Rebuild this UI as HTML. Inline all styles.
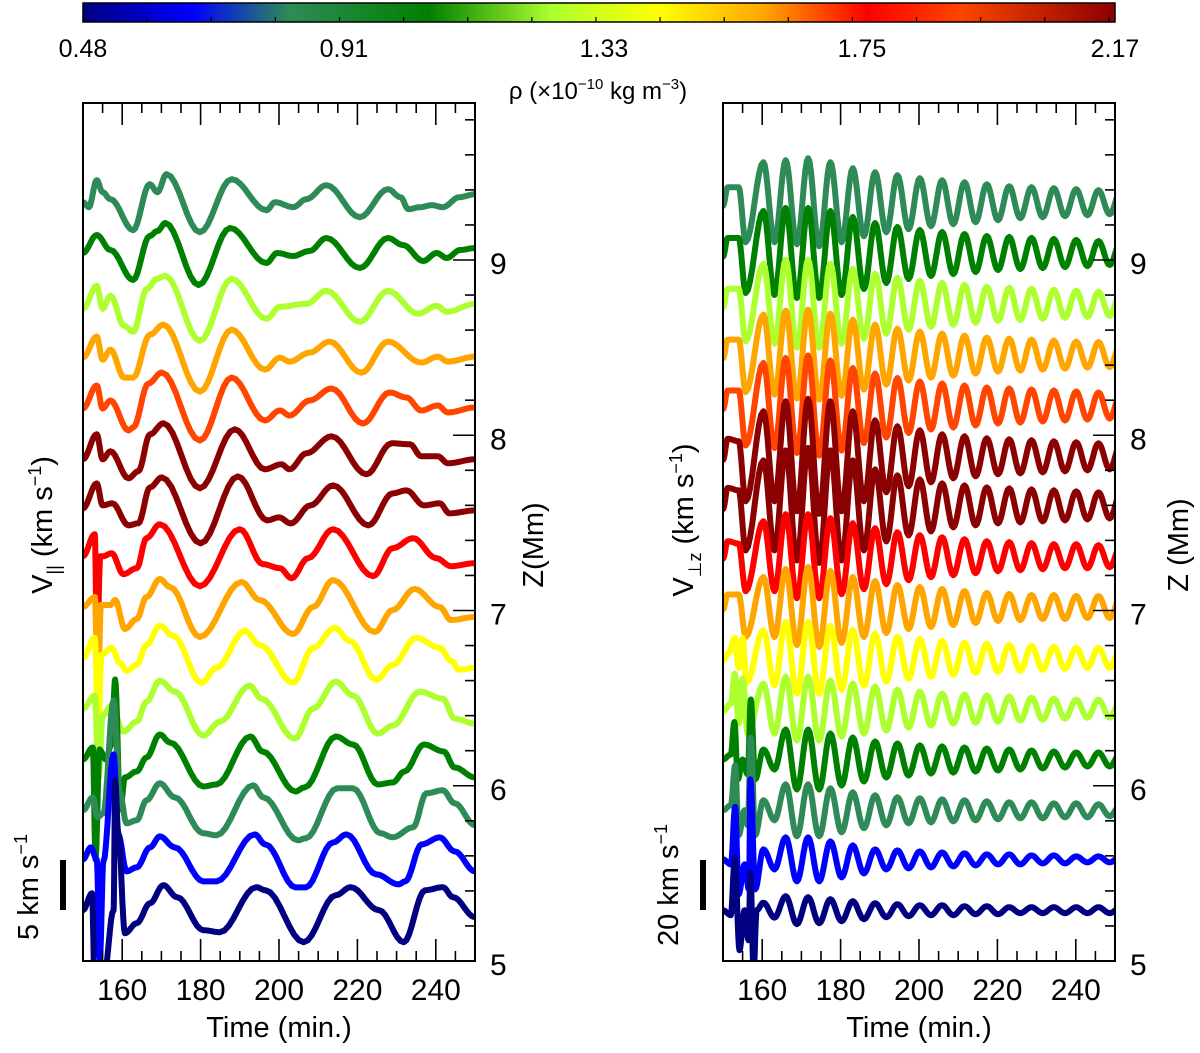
<!DOCTYPE html>
<html><head><meta charset="utf-8"><style>
html,body{margin:0;padding:0;background:#fff;}
svg{display:block;font-family:"Liberation Sans",Arial,sans-serif;}
</style></head><body>
<svg id="fig" width="1200" height="1053" viewBox="0 0 1200 1053" xmlns="http://www.w3.org/2000/svg">
<defs>
<linearGradient id="cbg" x1="0" x2="1" y1="0" y2="0">
<stop offset="0" stop-color="#000080"/><stop offset="0.106" stop-color="#0000ff"/><stop offset="0.2" stop-color="#2e8b57"/><stop offset="0.335" stop-color="#008000"/><stop offset="0.454" stop-color="#adff2f"/><stop offset="0.558" stop-color="#ffff00"/><stop offset="0.66" stop-color="#ffa500"/><stop offset="0.76" stop-color="#ff0000"/><stop offset="0.85" stop-color="#ff4500"/><stop offset="1" stop-color="#8b0000"/>
</linearGradient>
<clipPath id="clipL"><rect x="83" y="103" width="392" height="858"/></clipPath>
<clipPath id="clipR"><rect x="723" y="103" width="392" height="858"/></clipPath>
</defs>
<g>
<rect x="83" y="3" width="1032" height="19" fill="url(#cbg)" stroke="#000" stroke-width="1.5"/>
<g id="cbticks"></g>
<g font-size="25" text-anchor="middle">
<text x="83" y="57">0.48</text>
<text x="344" y="57">0.91</text>
<text x="604" y="57">1.33</text>
<text x="862" y="57">1.75</text>
<text x="1115" y="57">2.17</text>
</g>
<text x="598" y="99" font-size="24" text-anchor="middle">ρ (×10<tspan dy="-10" font-size="15">−10</tspan><tspan dy="10"> kg m</tspan><tspan dy="-10" font-size="15">−3</tspan><tspan dy="10">)</tspan></text>
</g>
<g id="panelL"></g>
<g id="panelR"></g>
<text transform="translate(52,525) rotate(-90)" font-size="29" text-anchor="middle">V<tspan dy="8" font-size="18">||</tspan><tspan dy="-8"> (km s</tspan><tspan dy="-11" font-size="18">−1</tspan><tspan dy="11">)</tspan></text>
<text transform="translate(38,887) rotate(-90)" font-size="29" text-anchor="middle">5 km s<tspan dy="-11" font-size="18">−1</tspan></text>
<rect x="60" y="860" width="6" height="50" fill="#000"/>
<text transform="translate(543,545) rotate(-90)" font-size="29" text-anchor="middle">Z(Mm)</text>
<text x="279" y="1037" font-size="29" text-anchor="middle">Time (min.)</text>
<text transform="translate(693,520) rotate(-90)" font-size="29" text-anchor="middle">V<tspan dy="8" font-size="18">⊥z</tspan><tspan dy="-8"> (km s</tspan><tspan dy="-11" font-size="18">−1</tspan><tspan dy="11">)</tspan></text>
<text transform="translate(678,885) rotate(-90)" font-size="29" text-anchor="middle">20 km s<tspan dy="-11" font-size="18">−1</tspan></text>
<rect x="700" y="860" width="6" height="50" fill="#000"/>
<text transform="translate(1188,545) rotate(-90)" font-size="29" text-anchor="middle">Z (Mm)</text>
<text x="919" y="1037" font-size="29" text-anchor="middle">Time (min.)</text>
</svg>
<script>
const NS="http://www.w3.org/2000/svg";
const curveColors=["#2e8b57","#008000","#adff2f","#ffa500","#ff4500","#8b0000","#8b0000","#ff0000","#ffa500","#ffff00","#adff2f","#008000","#2e8b57","#0000ff","#000080"];
const zLevels=[9.33,9.04,8.75,8.46,8.17,7.88,7.60,7.31,7.02,6.73,6.44,6.15,5.86,5.58,5.29];
const xTickLabels=[160,180,200,220,240];
const zTickLabels=[5,6,7,8,9];
const cbTicks=[0.48,0.91,1.33,1.75,2.17];

// Left panel: V_parallel knots [time(min), km/s]
const par0=[[150,0],[151.5,-0.5],[153.5,2.2],[155,1.0],[157,0.3],[162.8,-2.8],[167,1.8],[169,1.0],[171.3,2.8],[179.8,-3.0],[187.9,2.3],[196.8,-0.8],[199,0],[203.6,-0.5],[207,0.3],[212.1,1.7],[220.6,-1.5],[227.8,1.3],[231,0.5],[233,-0.7],[236,-0.5],[239,-0.3],[241.8,-0.5],[246,0.5],[250,0.8]];
const par1=[[150,0],[153.5,1.8],[157,0.3],[162.8,-2.7],[167,1.7],[169,2.2],[171,3.0],[179.5,-3.2],[187.5,2.5],[196.8,-1.0],[199.5,0],[203.6,-0.3],[207.8,0.2],[212.1,1.5],[220.6,-1.5],[227.8,1.5],[231.6,0.8],[236.8,-0.8],[240.2,0],[242.8,-0.5],[246.2,0.3],[250,0.5]];
const par2=[[150,-0.5],[153.5,1.8],[155,-0.5],[157,0.8],[160.5,-2.2],[162.8,-2.8],[166.3,1.5],[168.8,2.5],[171,2.8],[179.8,-3.7],[187.9,2.5],[196.8,-1.5],[200.2,-0.3],[207,0],[212.1,1.3],[220.6,-1.8],[227.8,1.3],[235.5,-1.0],[240.2,-0.2],[242.8,-0.8],[250,0]];
const par3=[[150,-0.3],[153.5,1.8],[155,-0.5],[157,0.5],[160.5,-2.3],[162.8,-2.3],[167.1,2.0],[170.5,3.0],[179.8,-3.7],[187.9,2.5],[196.4,-1.5],[200.2,-0.3],[202.7,-0.7],[207.8,0.2],[212.9,1.3],[221,-1.8],[227.8,1.3],[236.3,-0.8],[240.5,-0.2],[243.1,-0.7],[250,-0.2]];
const par4=[[150,-0.3],[153.5,2.0],[155,-0.3],[157,0.5],[161.6,-2.5],[162.8,-2.2],[166.7,2.2],[170.1,3.3],[179.8,-3.5],[187.9,2.8],[196.4,-1.5],[200.2,-0.5],[202.7,-1.0],[207.8,0.5],[213.4,1.7],[221.4,-1.8],[228.2,1.3],[232.5,0.8],[236.3,-0.5],[240.5,0],[243.1,-0.7],[250,-0.2]];
const par5=[[150,-0.3],[153.5,2.2],[155,-0.3],[157,0.5],[161.6,-2.2],[164.1,-1.5],[167.1,2.2],[170.5,3.3],[179.8,-3.2],[188.7,2.7],[196.4,-1.3],[200.6,-0.8],[202.7,-1.3],[207,0.3],[213.4,2.0],[222.3,-1.8],[228.7,1.3],[233.4,1.2],[236.3,0],[240.5,0],[243.1,-0.7],[250,-0.3]];
const par6=[[150,-0.3],[153.5,2.2],[155,0],[157.5,0.2],[161.6,-2.0],[164.1,-1.8],[167.1,1.8],[170.1,2.8],[180,-3.8],[189.5,2.9],[197,-1.5],[200,-1.2],[203,-1.8],[208,0],[213.8,2.0],[222.8,-2.0],[229,1.2],[232.5,1.5],[237,0],[241,0.2],[243.5,-0.8],[250,-0.5]];
const par7=[[150,0],[153,2.2],[153.6,-9],[154.4,0],[155.2,0],[157.3,0.3],[160.3,-1.8],[163.7,-1.2],[166.2,1.8],[169.6,3.2],[179.8,-3.0],[190,2.7],[195.9,-0.8],[200.2,-1.2],[203.2,-2.2],[207.4,-0.2],[213.8,2.7],[224,-2.0],[229,0.8],[234.2,1.8],[240.1,-0.2],[243.9,-1.0],[250,-0.7]];
const par8=[[150,0],[153,1.0],[153.8,-8],[154.6,0.2],[157,0.2],[158.2,0.7],[160.7,-2.2],[163.7,-1.2],[166.2,1.0],[169.6,2.8],[172.2,2.0],[179.8,-3.0],[190.4,2.5],[195.1,0.7],[203.6,-2.7],[208.7,0],[213.8,2.7],[224.4,-2.5],[229,-0.3],[234.6,1.8],[241,0],[243.9,-1.3],[250,-1.0]];
const par9=[[150,0],[153,2.0],[153.9,-7],[154.7,0.3],[157.3,1.0],[159.4,-0.5],[161.1,-1.3],[163.7,-0.7],[166.2,1.3],[169.6,3.2],[173,2.2],[180.2,-2.5],[184,-1.0],[191.3,2.7],[195.1,1.3],[203.6,-2.5],[208.7,1.0],[214.2,3.0],[218,1.7],[224.8,-2.2],[229,-0.7],[235,2.0],[241,1.0],[243.9,-0.3],[246,-1.2],[250,-1.0]];
const par10=[[150,0],[153,1.3],[154,-7],[155,-0.7],[157.3,0.3],[160.3,-2.3],[163.7,-1.3],[166.2,0.7],[169.6,2.8],[173.4,1.7],[180.7,-2.7],[184.9,-1.3],[192.5,2.3],[195.5,1.0],[204,-3.0],[208.7,0],[214.5,2.7],[218.9,1.3],[225.2,-2.5],[229,-1.7],[235.9,1.7],[241.8,1.0],[244.8,-1.0],[250,-1.5]];
const par11=[[150,0],[152.5,1.2],[153.2,-10],[154.2,1],[155.8,0],[157.3,1.5],[158.2,8],[159.5,-5],[160.7,-1.8],[163.7,-1.2],[166.2,0.2],[169.6,2.5],[172.2,1.7],[180.7,-2.7],[184,-2.5],[192.7,2.3],[195.8,0.8],[204.2,-3.2],[206.5,-2.8],[214.5,2.3],[218.9,1.5],[225.2,-2.5],[229,-2.3],[232,-1.2],[237,1.5],[242,0.8],[244.8,-0.8],[250,-1.8]];
const par12=[[150,0],[152.5,1.3],[153.7,-0.7],[155.2,-0.3],[157.8,11],[159.4,1.7],[161.1,-1.3],[163.7,-1],[166.2,1.0],[169.6,2.7],[173.4,1.3],[180.7,-2.3],[184,-2.5],[193.4,2.5],[196,1.3],[204.8,-3.0],[206.8,-2.8],[214.8,2.2],[218.9,2.2],[225.9,-2.3],[229,-2.7],[234.2,-1.7],[237.6,1.7],[241.8,2.0],[244.8,0.7],[250,-1.5]];
const par13=[[150,0],[152,1.2],[153.5,0],[154.3,-10],[155.2,-0.2],[157.8,10.5],[159,2.5],[161.1,-1.2],[163.7,-0.8],[167.1,1.2],[169.6,2.3],[173.4,1.2],[180.7,-2.2],[184,-2.2],[193.8,2.5],[196.5,1.5],[204.2,-2.8],[206.8,-2.8],[213.8,1.7],[217.2,2.5],[224.8,-1.5],[230.5,-2.5],[232.2,-2.2],[236.4,1.5],[241,2.2],[244.8,0.8],[250,-1.2]];
const par14=[[150,0],[152.3,1.7],[153,-8],[155.2,-7],[157.8,0],[158.2,13],[159,7.7],[160.7,-2.3],[163.7,-1.3],[167.1,0.7],[170.5,2.5],[174,1.3],[180.7,-2.0],[184.9,-2.2],[194.2,2.3],[196.5,2.0],[206.3,-3.2],[214.5,1.5],[218.3,2.3],[225.5,0],[231.8,-3.2],[237.3,2.0],[241.8,2.3],[244.4,1.3],[250,-0.7]];

// Right panel: V_perp,z peak times (min) and peak amplitudes (km/s)
const peakTimes=[160.3,166.0,171.7,177.4,183.1,188.8,194.5,200.2,205.9,211.6,217.3,223.0,228.7,234.4,240.1,245.8,251.5];
const perpAmp0=[16,16.8,17.6,16,13.6,12,10.8,9.6,8.8,8,7.2,6.4,6,5.6,5.2,4.8,4.8];
const perpAmp1=[16.8,18,18,16.8,14.4,12,10.4,9.2,8.4,7.6,6.8,6.4,6,5.6,5.2,4.8,4.8];
const perpAmp2=[16,17.6,17.6,16,14,12,10.4,9.2,8.4,7.6,6.8,6.4,6,5.6,5.2,4.8,4.8];
const perpAmp3=[16,17.6,18,16.4,14,12,10.4,9.2,8.4,7.6,6.8,6.4,6,5.6,5.2,5,5];
const perpAmp4=[17,19,20,18,15,12.8,11,9.6,8.8,8,7.2,6.8,6.4,6,5.6,5.2,5.2];
const perpAmp5=[18,22,23,22,18,14.4,12,10.4,8.8,8,7.2,6.8,6.4,6,5.6,5.2,5.2];
const perpAmp6=[18,22,23,22,18,14.4,12,10.4,8.8,8,7.2,6.8,6.4,6,5.6,5.2,5.2];
const perpAmp7=[14,16.8,16.8,15.2,13.2,11.2,9.6,8.4,7.6,6.8,6,5.6,5.2,4.8,4.8,4.4,4.4];
const perpAmp8=[12,15.2,16,14.4,12,10.4,8.8,8,7.2,6.4,5.6,5.2,4.8,4.8,4.4,4.4,4.4];
const perpAmp9=[11,14.4,14.4,12.8,11.2,9.6,8.4,7.6,6.8,6,5.6,5.2,4.8,4.4,4,4,4];
const perpAmp10=[10,12.8,12.8,11.2,10,8.8,7.6,6.8,6,5.6,5.2,4.8,4.4,4,3.6,3.6,3.6];
const perpAmp11=[4,12,12,10.4,8.8,7.2,6.4,5.6,5.2,4.8,4.4,4,3.6,3.2,2.8,2.8,2.8];
const perpAmp12=[4,10.4,10.4,8.8,7.2,6,5.2,4.8,4.4,4,3.6,3.2,3.2,2.8,2.8,2.4,2.4];
const perpAmp13=[4,8.8,8.8,7.2,5.6,4,3.6,3.2,2.8,2.4,2,2,1.6,1.6,1.2,1.2,1.2];
const perpAmp14=[3,5.6,5.2,4.4,3.6,2.8,2.4,2,2,1.6,1.6,1.2,1.2,1.2,1.2,1.2,1.2];
// early (pre-oscillation) knots [time, km/s]
const perpPre0=[[150,-1.5],[151.2,6],[154,6],[155.8,-16]];
const perpPre1=[[150,-1.5],[151.2,6],[154,6],[155.8,-16]];
const perpPre2=[[150,-1.5],[151.2,6],[154,6],[155.8,-15]];
const perpPre3=[[150,-1.5],[151.2,6],[154,6],[155.8,-15]];
const perpPre4=[[150,-1.5],[151.2,6],[154,6],[155.8,-16]];
const perpPre5=[[150,-1.5],[151.2,7],[154,6],[155.8,-18]];
const perpPre6=[[150,-1.5],[151.2,7],[154,6],[155.8,-18]];
const perpPre7=[[150,-1],[151.2,6],[154,5],[155.8,-14]];
const perpPre8=[[150,-1],[151.2,5],[154,5],[155.8,-12]];
const perpPre9=[[150,-1],[151.5,2],[153,8],[154,-4],[155,8],[156,-10]];
const perpPre10=[[150,-1],[152,2],[153,14],[154,-6],[155,12],[156.3,-10]];
const perpPre11=[[150,0],[152,2],[152.9,15],[153.8,-8],[155,0],[156.3,-6],[157.1,24],[158.2,-8]];
const perpPre12=[[150,0],[152,2],[153.1,18],[154,-10],[155.5,0],[156.3,-6],[157.1,29],[158.2,-10]];
const perpPre13=[[150,0],[152,-2],[153.1,21],[154,-14],[155.5,-2],[156.6,-12],[157,32],[158.2,-12]];
const perpPre14=[[150,0],[152,-2],[153,21],[154.2,-16],[155.5,0],[156.5,-12],[157,15],[157.8,-24],[158.6,0]];

const parCurves=[par0,par1,par2,par3,par4,par5,par6,par7,par8,par9,par10,par11,par12,par13,par14];
const perpAmps=[perpAmp0,perpAmp1,perpAmp2,perpAmp3,perpAmp4,perpAmp5,perpAmp6,perpAmp7,perpAmp8,perpAmp9,perpAmp10,perpAmp11,perpAmp12,perpAmp13,perpAmp14];
const perpPres=[perpPre0,perpPre1,perpPre2,perpPre3,perpPre4,perpPre5,perpPre6,perpPre7,perpPre8,perpPre9,perpPre10,perpPre11,perpPre12,perpPre13,perpPre14];

const PX_PER_MIN=3.92, Y0=961, PX_PER_MM=175.25;
function xAxis(left){return t=>left+(t-150)*PX_PER_MIN;}
function yZ(z){return Y0-(z-5)*PX_PER_MM;}
const xL=xAxis(83), xR=xAxis(723);

function mk(tag,attrs,parent){const e=document.createElementNS(NS,tag);for(const k in attrs)e.setAttribute(k,attrs[k]);parent.appendChild(e);return e;}

const cbg=document.getElementById('cbticks');
const cbX=v=>83+(v-0.48)/(2.17-0.48)*1032;
for(let v=0.48;v<=2.171;v+=0.105){
  const major=cbTicks.some(c=>Math.abs(c-v)<0.01);
  const x=cbX(v);
  const tk=mk('line',{x1:x,x2:x,y1:22,y2:major?14:17,stroke:'#000','stroke-width':1.2},cbg);
  
  
}

function drawAxes(g,left,xf,prefix){
  const box=mk('rect',{x:left,y:103,width:392,height:858,fill:'none',stroke:'#000','stroke-width':2},g);
  
  
  for(let t=150;t<=250;t+=5){
    const x=xf(t);const major=xTickLabels.includes(t);const L=major?22:10;
    const a=mk('line',{x1:x,x2:x,y1:961,y2:961-L,stroke:'#000','stroke-width':1.6},g);
    
    
    const b=mk('line',{x1:x,x2:x,y1:103,y2:103+L,stroke:'#000','stroke-width':1.6},g);
    
    
  }
  xTickLabels.forEach(t=>{
    const tx=mk('text',{x:xf(t),y:1000,'font-size':30,'text-anchor':'middle'},g);
    tx.textContent=t;
    
    
  });
  const right=left+392;
  for(let i=0;i<=24;i++){
    const z=5+i*0.2;const y=yZ(z);if(y<103)break;
    const major=Math.abs(z-Math.round(z))<0.01;
    const tk=mk('line',{x1:right,x2:right-(major?22:10),y1:y,y2:y,stroke:'#000','stroke-width':1.6},g);
    
    
  }
  zTickLabels.forEach(z=>{
    const tx=mk('text',{x:right+15,y:yZ(z)+14,'font-size':30},g);
    tx.textContent=z;
    
    
  });
}

function pathFrom(knots,xf,base,scale){
  let d='';
  for(let i=0;i<knots.length;i++){
    const [t,v]=knots[i];
    if(i===0){d+='M'+xf(t).toFixed(1)+' '+(base-v*scale).toFixed(1);continue;}
    const [t0,v0]=knots[i-1];
    const n=8;
    for(let s=1;s<=n;s++){
      const f=s/n;const w=(1-Math.cos(Math.PI*f))/2;
      const tt=t0+(t-t0)*f, vv=v0+(v-v0)*w;
      d+='L'+xf(tt).toFixed(1)+' '+(base-vv*scale).toFixed(1);
    }
  }
  return d;
}

const gL=document.getElementById('panelL');
const curvesL=mk('g',{'clip-path':'url(#clipL)'},gL);


parCurves.forEach((knots,i)=>{
  const p=mk('path',{d:pathFrom(knots,xL,yZ(zLevels[i]),10),fill:'none',stroke:curveColors[i],'stroke-width':6,'stroke-linejoin':'round','stroke-linecap':'round'},curvesL);
  
  
});
drawAxes(gL,83,xL,'left');

const gR=document.getElementById('panelR');
const curvesR=mk('g',{'clip-path':'url(#clipR)'},gR);


perpAmps.forEach((amps,i)=>{
  const knots=perpPres[i].slice();
  peakTimes.forEach((t,k)=>{knots.push([t,amps[k]]);knots.push([t+2.85,-amps[k]]);});
  const p=mk('path',{d:pathFrom(knots,xR,yZ(zLevels[i]),2.5),fill:'none',stroke:curveColors[i],'stroke-width':6,'stroke-linejoin':'round','stroke-linecap':'round'},curvesR);
  
  
});
drawAxes(gR,723,xR,'right');
</script>
</body></html>
